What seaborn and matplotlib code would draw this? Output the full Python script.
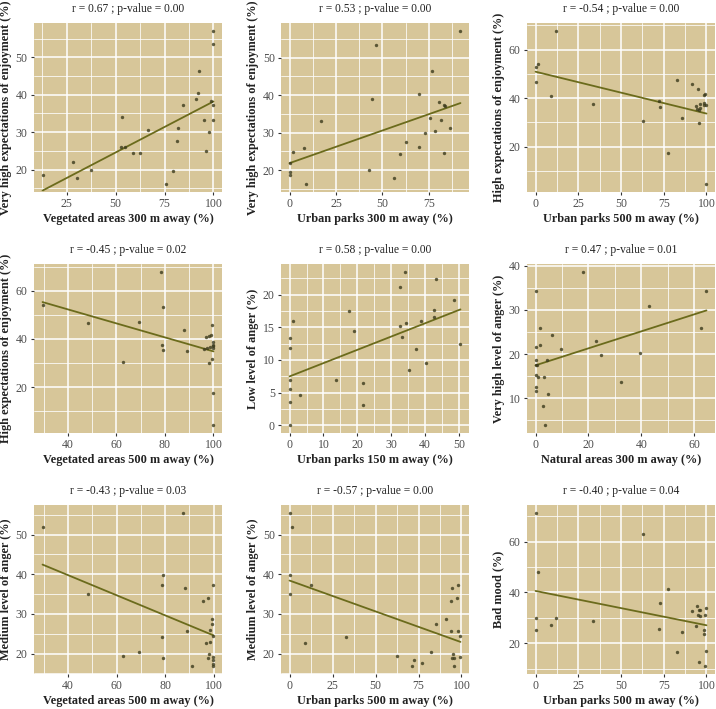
import numpy as np
import matplotlib
matplotlib.use("Agg")
import matplotlib.pyplot as plt
import seaborn as sns

# Data (one list per panel)
veg300 = [12.7, 28.4, 30.5, 37.3, 52.6, 53.4, 54.6, 58.9, 62.3, 66.8, 75.7, 79.3, 81.3,
          81.8, 84.4, 91.1, 91.9, 92.8, 95.4, 96.2, 97.9, 98.6, 99.8, 100, 100, 100]
vh_enjoy_a = [18.6, 22.0, 17.8, 19.9, 26.1, 34.0, 26.1, 24.5, 24.5, 30.5, 16.1, 19.7, 27.6,
              31.1, 37.2, 39.0, 40.5, 46.3, 33.3, 24.9, 30.0, 38.3, 37.4, 33.2, 53.5, 57.1]

parks300 = [0, 0, 0.5, 1.8, 7.9, 9.0, 16.8, 42.9, 44.5, 46.8, 56.4, 59.5, 62.5, 69.5, 69.7,
            73.0, 75.9, 76.6, 78.2, 80.4, 81.6, 83.1, 83.1, 84.0, 86.5, 92.1]
vh_enjoy_b = [19.6, 18.7, 22.0, 24.9, 25.9, 16.2, 33.2, 19.9, 39.0, 53.5, 17.8, 24.4, 27.6,
              26.1, 40.4, 30.0, 34.0, 46.5, 30.4, 38.3, 33.3, 37.3, 24.5, 37.0, 31.1, 57.2]

parks500_a = [0, 0, 1.4, 8.8, 12.0, 33.4, 63.1, 72.5, 72.9, 77.6, 82.7, 85.9, 91.7, 94.1,
              94.5, 95.1, 95.5, 95.7, 96.1, 96.5, 98.4, 98.4, 99.4, 98.8, 100, 100]
h_enjoy_a = [53.0, 46.8, 54.2, 40.8, 67.8, 37.4, 30.5, 38.8, 36.3, 17.5, 47.3, 31.6, 45.6,
             36.6, 35.3, 43.8, 34.9, 29.9, 36.0, 37.4, 37.8, 41.4, 41.5, 37.0, 37.0, 4.4]

veg500_a = [29.5, 48.4, 62.8, 69.4, 78.5, 78.9, 79.2, 79.3, 88.0, 89.0, 95.9, 96.8, 97.5,
            98.2, 98.1, 98.5, 98.9, 99.4, 99.4, 99.7, 99.9, 100, 100, 99.7, 99.7]
h_enjoy_b = [54.2, 46.8, 30.5, 47.1, 67.9, 37.4, 53.2, 35.3, 43.8, 35.1, 35.8, 41.0, 36.3,
             41.2, 30.0, 36.8, 41.5, 45.6, 31.6, 38.8, 37.7, 37.1, 36.4, 17.5, 4.2]

parks150 = [0, 0, 0, 0, 0, 0, 1.0, 3.2, 13.8, 17.4, 19.0, 21.7, 21.8, 32.5, 32.7, 33.3, 34.1,
            34.3, 35.2, 37.4, 38.7, 40.2, 42.6, 42.6, 43.2, 48.6, 50.4]
low_anger = [0, 3.5, 5.5, 7.0, 11.8, 13.4, 15.9, 4.6, 7.0, 17.5, 14.5, 3.1, 6.4, 15.2, 21.2,
             13.5, 23.5, 15.6, 8.4, 11.6, 15.9, 9.5, 17.7, 16.5, 22.4, 19.2, 12.5]

natural300 = [0, 0, 0, 0, 0, 0, 0, 0.6, 0.8, 1.5, 1.6, 3.0, 3.3, 3.4, 4.3, 4.8, 6.3, 9.6,
              18.0, 22.7, 24.6, 32.4, 39.5, 42.9, 62.7, 64.6]
vh_anger = [34.3, 21.5, 18.7, 17.5, 15.3, 12.5, 11.7, 17.4, 14.8, 25.9, 22.1, 8.3, 14.7, 3.8,
            18.6, 11.0, 24.3, 21.2, 38.7, 22.9, 19.8, 13.7, 20.3, 31.0, 25.9, 34.2]

veg500_b = [29.5, 48.4, 62.8, 69.4, 78.5, 78.5, 79.2, 79.3, 87.4, 88.1, 89.0, 90.9, 95.7,
            96.8, 97.7, 97.5, 98.1, 98.3, 98.5, 99.4, 99.4, 99.7, 99.9, 99.9, 99.9, 99.9, 99.9]
med_anger_a = [51.8, 35.1, 19.3, 20.3, 24.3, 37.2, 39.8, 19.0, 55.5, 36.5, 25.8, 16.8, 33.3,
               22.6, 34.1, 19.0, 19.8, 25.9, 23.0, 27.5, 28.7, 37.3, 24.4, 19.2, 18.5, 17.5, 16.9]

parks500_b = [0, 1.4, 0, 0, 12.3, 8.8, 33.1, 62.6, 71.5, 72.3, 76.8, 82.1, 85.2, 90.8, 93.8,
              94.0, 94.5, 94.3, 95.1, 95.5, 95.5, 97.5, 97.9, 98.1, 99.4, 99.4]
med_anger_b = [55.5, 51.8, 39.8, 35.1, 37.2, 22.6, 24.3, 19.3, 17.0, 18.4, 17.7, 20.3, 27.5,
               28.7, 33.3, 25.8, 36.5, 19.0, 19.8, 19.0, 16.8, 34.1, 37.3, 25.8, 24.4, 19.2]

parks500_c = [0, 0, 0, 1.4, 8.8, 12.0, 33.4, 63.1, 72.5, 72.9, 77.6, 82.7, 85.9, 91.7, 94.1,
              94.5, 95.1, 95.5, 95.7, 96.1, 96.5, 98.4, 98.8, 99.4, 99.4, 100, 100]
bad_mood = [71.4, 30.0, 25.3, 47.9, 27.3, 29.9, 28.6, 63.0, 25.6, 35.7, 41.5, 16.4, 24.6,
            32.5, 26.9, 34.5, 31.2, 12.6, 32.9, 30.8, 32.9, 25.3, 23.8, 10.9, 31.1, 33.9, 17.0]

titles = ["r = 0.67 ; p-value = 0.00", "r = 0.53 ; p-value = 0.00", "r = -0.54 ; p-value = 0.00",
          "r = -0.45 ; p-value = 0.02", "r = 0.58 ; p-value = 0.00", "r = 0.47 ; p-value = 0.01",
          "r = -0.43 ; p-value = 0.03", "r = -0.57 ; p-value = 0.00", "r = -0.40 ; p-value = 0.04"]

panels = [
    (veg300, vh_enjoy_a, "Vegetated areas 300 m away (%)", "Very high expectations of enjoyment (%)",
     [25, 50, 75, 100], [20, 30, 40, 50]),
    (parks300, vh_enjoy_b, "Urban parks 300 m away (%)", "Very high expectations of enjoyment (%)",
     [0, 25, 50, 75], [20, 30, 40, 50]),
    (parks500_a, h_enjoy_a, "Urban parks 500 m away (%)", "High expectations of enjoyment (%)",
     [0, 25, 50, 75, 100], [20, 40, 60]),
    (veg500_a, h_enjoy_b, "Vegetated areas 500 m away (%)", "High expectations of enjoyment (%)",
     [40, 60, 80, 100], [20, 40, 60]),
    (parks150, low_anger, "Urban parks 150 m away (%)", "Low level of anger (%)",
     [0, 10, 20, 30, 40, 50], [0, 5, 10, 15, 20]),
    (natural300, vh_anger, "Natural areas 300 m away (%)", "Very high level of anger (%)",
     [0, 20, 40, 60], [10, 20, 30, 40]),
    (veg500_b, med_anger_a, "Vegetated areas 500 m away (%)", "Medium level of anger (%)",
     [40, 60, 80, 100], [20, 30, 40, 50]),
    (parks500_b, med_anger_b, "Urban parks 500 m away (%)", "Medium level of anger (%)",
     [0, 25, 50, 75, 100], [20, 30, 40, 50]),
    (parks500_c, bad_mood, "Urban parks 500 m away (%)", "Bad mood (%)",
     [0, 25, 50, 75, 100], [20, 40, 60]),
]

sns.set_style("white")
plt.rcParams['font.family'] = ['Liberation Serif', 'DejaVu Serif']

W, H = 716, 709
fig = plt.figure(figsize=(W / 100, H / 100), dpi=100)

col_left = [34, 281, 527]
row_top = [23, 264, 505]
pw, ph = 188, 169

bg = "#d7c699"
line_col = "#6b6b1c"
pt_col = "#3b3a1c"


def expand(v):
    lo, hi = min(v), max(v)
    pad = (hi - lo) * 0.05
    return lo - pad, hi + pad


def minors(major, lim):
    step = major[1] - major[0]
    m = [major[0] - step / 2] + [a + step / 2 for a in major]
    return [t for t in m if lim[0] <= t <= lim[1]]


for i, (x, y, xl, yl, xt, yt) in enumerate(panels):
    r, c = divmod(i, 3)
    ax = fig.add_axes([col_left[c] / W, 1 - (row_top[r] + ph) / H, pw / W, ph / H])
    ax.set_facecolor(bg)
    xlim, ylim = expand(x), expand(y)
    for t in minors(xt, xlim):
        ax.axvline(t, color="white", lw=0.55, zorder=0)
    for t in minors(yt, ylim):
        ax.axhline(t, color="white", lw=0.55, zorder=0)
    for t in xt:
        ax.axvline(t, color="white", lw=1.1, zorder=0)
    for t in yt:
        ax.axhline(t, color="white", lw=1.1, zorder=0)

    sns.regplot(x=np.array(x), y=np.array(y), ax=ax, ci=None,
                scatter_kws=dict(s=6, color=pt_col, linewidths=0, zorder=3),
                line_kws=dict(color=line_col, lw=1.3, zorder=2))

    ax.set_xlim(xlim)
    ax.set_ylim(ylim)
    ax.set_xticks(xt)
    ax.set_yticks(yt)
    for s in ax.spines.values():
        s.set_visible(False)
    ax.tick_params(axis="both", length=2.5, width=0.8, color="#333333",
                   labelcolor="#4d4d4d", labelsize=8.5, pad=2, direction="out")
    ax.tick_params(axis="both", which="both", bottom=True, left=True)
    ax.set_xlabel(xl, fontsize=8.8, fontweight="bold", color="#222222", labelpad=2)
    ax.set_ylabel(yl, fontsize=8.8, fontweight="bold", color="#222222", labelpad=3)
    ax.set_title(titles[i], fontsize=8.3, color="#222222", pad=8)

fig.savefig("out.png", dpi=100, facecolor="white")
